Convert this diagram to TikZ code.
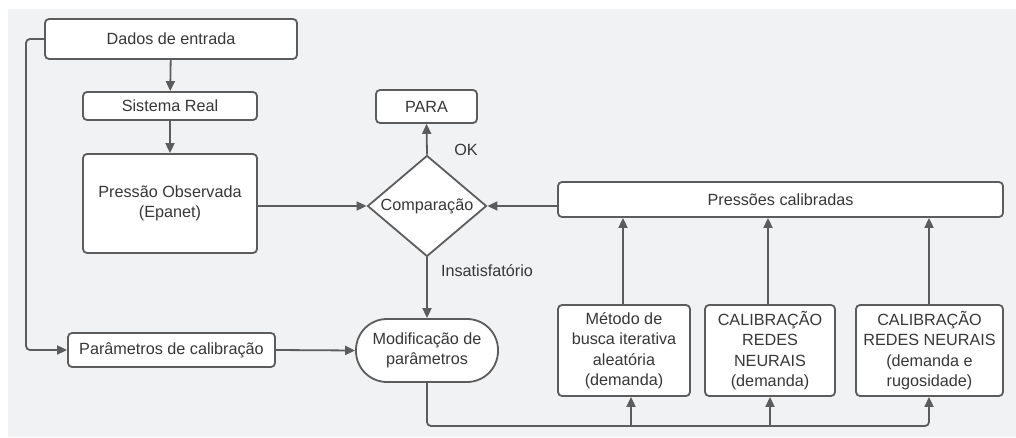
\documentclass[tikz,border=0pt]{standalone}
\usepackage{fontspec}
\setmainfont{Liberation Sans}
\usetikzlibrary{arrows.meta,shapes.geometric}
\definecolor{panel}{RGB}{241,242,244}
\definecolor{linec}{RGB}{92,92,92}
\definecolor{textc}{RGB}{55,55,55}
\begin{document}
\begin{tikzpicture}[x=1pt,y=-1pt,
  every node/.style={font=\fontsize{16.2}{20.5}\selectfont, text=textc},
  box/.style={draw=linec, line width=1.8pt, fill=white, rounded corners=4pt,
    align=center, inner sep=0pt, anchor=center},
  arr/.style={draw=linec, line width=1.8pt, -{Triangle[length=10pt,width=9pt]}},
  wire/.style={draw=linec, line width=1.8pt}]
  \useasboundingbox (0,0) rectangle (1016,438);
  \fill[panel] (8,9) rectangle (1016,437);

  % left column
  \node[box, minimum width=252pt, minimum height=40pt] (dados) at (171,39) {Dados de entrada};
  \node[box, minimum width=174pt, minimum height=28pt] (sistema) at (170,106) {Sistema Real};
  \node[box, minimum width=174pt, minimum height=99pt] (pressao) at (170,203.5) {Pressão Observada\\(Epanet)};
  \node[box, minimum width=207pt, minimum height=34pt] (param) at (171.5,350) {Parâmetros de calibração};

  % decision column
  \node[box, minimum width=101pt, minimum height=33pt] (para) at (426.5,106.5) {PARA};
  \node[diamond, draw=linec, line width=1.8pt, fill=white, inner sep=0pt,
        minimum width=119pt, minimum height=101pt] (comp) at (427,206) {};
  \node (comptext) at (comp.center) {Comparação};
  \node[box, rounded corners=31pt, minimum width=142pt, minimum height=63pt] (modif) at (427,350.5) {Modificação de\\parâmetros};

  % calibration methods
  \node[box, minimum width=445pt, minimum height=35pt] (pressoes) at (780.5,199.5) {Pressões calibradas};
  \node[box, minimum width=132pt, minimum height=91pt] (metodo) at (624,350.5) {Método de\\busca iterativa\\aleatória\\(demanda)};
  \node[box, minimum width=130pt, minimum height=91pt] (calibA) at (770,350.5) {CALIBRAÇÃO\\REDES\\NEURAIS\\(demanda)};
  \node[box, minimum width=147pt, minimum height=91pt] (calibB) at (929.5,350.5) {CALIBRAÇÃO\\REDES NEURAIS\\(demanda e\\rugosidade)};

  % edge labels
  \node (ok) at (466,150) {OK};
  \node (insat) at (487,271) {Insatisfatório};

  \coordinate (bus) at (0,426);
  \coordinate (leftrail) at (26,0);

  % main flow
  \draw[arr] (dados) -- (sistema);
  \draw[arr] (sistema) -- (pressao);
  \draw[arr] (pressao.east |- comp.west) -- (comp.west);
  \draw[arr] (comp.north) -- (para.south);
  \draw[arr] (pressoes.west |- comp.east) -- (comp.east);
  \draw[arr] (comp.south) -- (modif.north);
  \draw[arr, rounded corners=4pt] (dados.west) -- (leftrail |- dados.west) -- (leftrail |- param.west) -- (param.west);
  \draw[arr] (param.east) -- (modif.west);

  % distribution bus to the methods
  \draw[wire, rounded corners=4pt] (modif.south) -- (modif.south |- bus) -- ([xshift=-0.5pt]calibB.south |- bus) -- ([xshift=-0.5pt]calibB.south |- 0,405);
  \draw[arr] ([xshift=-0.5pt]calibB.south |- 0,415) -- ([xshift=-0.5pt]calibB.south);
  \draw[arr] ([xshift=7pt]metodo.south |- bus) -- ([xshift=7pt]metodo.south);
  \draw[arr] (calibA.south |- bus) -- (calibA.south);

  % results up to the calibrated pressures
  \draw[arr] ([xshift=-1pt]metodo.north) -- ([xshift=-1pt]metodo.north |- pressoes.south);
  \draw[arr] ([xshift=-2pt]calibA.north) -- ([xshift=-2pt]calibA.north |- pressoes.south);
  \draw[arr] ([xshift=-0.5pt]calibB.north) -- ([xshift=-0.5pt]calibB.north |- pressoes.south);
\end{tikzpicture}
\end{document}
